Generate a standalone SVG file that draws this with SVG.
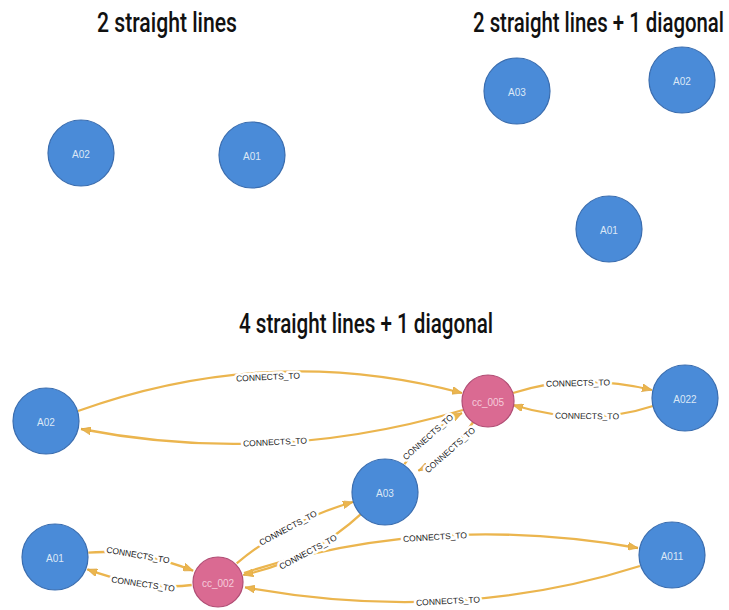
<svg xmlns="http://www.w3.org/2000/svg" width="729" height="610" viewBox="0 0 729 610">
  <style>
    .title { font-family: Roboto, "DejaVu Sans Condensed", sans-serif; font-weight: 500; font-size: 21px; fill: #111; }
    .blue circle { fill: #4A8BD8; stroke: #3A6DAF; stroke-width: 1.2; }
    .pink circle { fill: #DA6A92; stroke: #B04D74; stroke-width: 1.2; }
    .node text { font-family: "Liberation Sans", Arial, sans-serif; font-size: 10px; text-anchor: middle; dominant-baseline: central; }
    .blue text { fill: #DCE8F6; }
    .pink text { fill: #F6CCDB; }
    .edge { fill: none; stroke: #EBB54E; stroke-width: 2.3; marker-end: url(#arrow); }
    .lbl { font-family: "Liberation Sans", Arial, sans-serif; font-size: 8.5px; fill: #222; text-anchor: middle; dominant-baseline: central; stroke: #fff; stroke-width: 5; paint-order: stroke; stroke-linejoin: round; }
  </style>
  <defs>
    <marker id="arrow" viewBox="0 0 10 8" refX="10" refY="4" markerWidth="10" markerHeight="8" markerUnits="userSpaceOnUse" orient="auto">
      <path d="M0,0 L10,4 L0,8 Z" fill="#EBB54E" stroke="#D9A23D" stroke-width="0.6"/>
    </marker>
  </defs>

  <rect width="729" height="610" fill="#fff"/>

  <!-- headings: tall, narrow lettering via a vertical stretch -->
  <text class="title" transform="translate(97,32) scale(1,1.333)" textLength="140" lengthAdjust="spacingAndGlyphs">2 straight lines</text>
  <text class="title" transform="translate(473,32) scale(1,1.333)" textLength="251" lengthAdjust="spacingAndGlyphs">2 straight lines + 1 diagonal</text>
  <text class="title" transform="translate(239,333) scale(1,1.333)" textLength="254" lengthAdjust="spacingAndGlyphs">4 straight lines + 1 diagonal</text>

  <!-- first graph -->
  <g id="g1-A02" class="node blue"><circle cx="81" cy="153" r="33"/><text x="81" y="154">A02</text></g>
  <g id="g1-A01" class="node blue"><circle cx="252" cy="155" r="33"/><text x="252" y="156">A01</text></g>

  <!-- second graph -->
  <g id="g2-A03" class="node blue"><circle cx="517" cy="91" r="33"/><text x="517" y="92">A03</text></g>
  <g id="g2-A02" class="node blue"><circle cx="682" cy="80" r="33"/><text x="682" y="81">A02</text></g>
  <g id="g2-A01" class="node blue"><circle cx="609" cy="229" r="33"/><text x="609" y="230">A01</text></g>

  <!-- third graph: connectors -->
  <g id="connectors">
    <path class="edge" d="M78,411 Q270,342 462,393"/>
    <path class="edge" d="M463,410 Q272.5,466.5 81,429"/>
    <path class="edge" d="M513,393 Q577.5,372.5 652,390"/>
    <path class="edge" d="M653,406 Q587.5,427.5 513,405"/>
    <path class="edge" d="M404.5,464.2 Q426.6,431.1 462,413"/>
    <path class="edge" d="M473.2,422 Q452.4,453.9 418.3,470.7"/>
    <path class="edge" d="M236.7,563.3 Q288.3,520.4 353,502"/>
    <path class="edge" d="M361.7,513.3 Q311,560 243.3,575"/>
    <path class="edge" d="M244,573 Q429,511.5 638,548"/>
    <path class="edge" d="M640,566 Q453.5,625.3 245,587.3"/>
    <path class="edge" d="M88.3,552.7 Q135.2,548.3 193.3,570.7"/>
    <path class="edge" d="M191.7,585 Q146.5,590.8 87.3,569.3"/>

    <text class="lbl" transform="translate(268,377) rotate(-2.7)">CONNECTS_TO</text>
    <text class="lbl" transform="translate(275,442) rotate(-2.8)">CONNECTS_TO</text>
    <text class="lbl" transform="translate(578,383) rotate(-1.2)">CONNECTS_TO</text>
    <text class="lbl" transform="translate(587,416) rotate(0.8)">CONNECTS_TO</text>
    <text class="lbl" transform="translate(428,437) rotate(-41.5)">CONNECTS_TO</text>
    <text class="lbl" transform="translate(450,450) rotate(-41.5)">CONNECTS_TO</text>
    <text class="lbl" transform="translate(288,528) rotate(-28.3)">CONNECTS_TO</text>
    <text class="lbl" transform="translate(308,552) rotate(-28.3)">CONNECTS_TO</text>
    <text class="lbl" transform="translate(435,537) rotate(-3.6)">CONNECTS_TO</text>
    <text class="lbl" transform="translate(448,601) rotate(-3)">CONNECTS_TO</text>
    <text class="lbl" transform="translate(138,555) rotate(9.7)">CONNECTS_TO</text>
    <text class="lbl" transform="translate(143,584) rotate(8.5)">CONNECTS_TO</text>
  </g>

  <!-- third graph: nodes -->
  <g id="g3-A02" class="node blue"><circle cx="46" cy="421" r="33"/><text x="46" y="422">A02</text></g>
  <g id="g3-cc_005" class="node pink"><circle cx="488" cy="401" r="26"/><text x="488" y="402">cc_005</text></g>
  <g id="g3-A022" class="node blue"><circle cx="685" cy="398" r="33"/><text x="685" y="399">A022</text></g>
  <g id="g3-A03" class="node blue"><circle cx="385" cy="492" r="33"/><text x="385" y="493">A03</text></g>
  <g id="g3-A01" class="node blue"><circle cx="55" cy="557" r="33"/><text x="55" y="558">A01</text></g>
  <g id="g3-cc_002" class="node pink"><circle cx="218" cy="582" r="25"/><text x="218" y="583">cc_002</text></g>
  <g id="g3-A011" class="node blue"><circle cx="672" cy="555" r="33"/><text x="672" y="556">A011</text></g>
</svg>
